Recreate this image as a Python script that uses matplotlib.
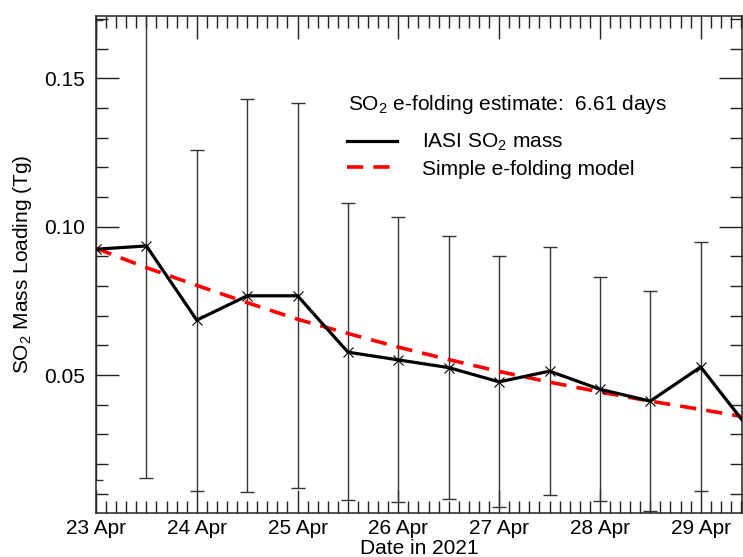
"""
SO2 mass loading from IASI with simple e-folding fit
"""
import numpy as np
import pandas as pd
import matplotlib
matplotlib.use("Agg")
import matplotlib.pyplot as plt
import matplotlib.dates as mdates
from matplotlib.ticker import MultipleLocator
from matplotlib.lines import Line2D

plt.rcParams['font.family'] = ['Liberation Sans', 'DejaVu Sans']
plt.rcParams['mathtext.fontset'] = 'custom'
plt.rcParams['mathtext.rm'] = 'Liberation Sans'
plt.rcParams['mathtext.it'] = 'Liberation Sans:italic'
plt.rcParams['mathtext.bf'] = 'Liberation Sans:bold'

# times of the IASI overpasses (every 12 h)
times = ["2021-04-23 00:00", "2021-04-23 12:00", "2021-04-24 00:00", "2021-04-24 12:00",
         "2021-04-25 00:00", "2021-04-25 12:00", "2021-04-26 00:00", "2021-04-26 12:00",
         "2021-04-27 00:00", "2021-04-27 12:00", "2021-04-28 00:00", "2021-04-28 12:00",
         "2021-04-29 00:00", "2021-04-29 12:00"]
# SO2 mass (Tg)
so2_mass = [0.0924, 0.0935, 0.0685, 0.0767, 0.0767, 0.0577, 0.0551,
            0.0525, 0.0477, 0.0513, 0.0452, 0.0412, 0.0527, 0.0310]
# error bar ends (Tg)
err_hi = [0.1697, 0.1850, 0.1259, 0.1431, 0.1417, 0.1079, 0.1031,
          0.0969, 0.0901, 0.0932, 0.0830, 0.0784, 0.0948, 0.1700]
err_lo = [0.0146, 0.0153, 0.0110, 0.0107, 0.0118, 0.0079, 0.0073,
          0.0082, 0.0055, 0.0094, 0.0075, 0.0043, 0.0110, 0.0060]
# e-folding model values at the same times
model = [0.0927, 0.0862, 0.0802, 0.0744, 0.0688, 0.0640, 0.0594,
         0.0552, 0.0512, 0.0476, 0.0443, 0.0412, 0.0384, 0.0355]
efold_days = 6.61

FS = 15

x = mdates.date2num(pd.to_datetime(times))
y = np.array(so2_mass)
yerr = [y - np.array(err_lo), np.array(err_hi) - y]

fig = plt.figure(figsize=(7.43, 5.57), dpi=100)
ax = fig.add_axes([96/743, 44/557, 646/743, 497/557])

ax.errorbar(x, y, yerr=yerr, fmt='none', ecolor='#333333', elinewidth=1.0,
            capsize=5, capthick=1.0, zorder=2)
ax.plot(x, model, color='red', lw=2.6, ls=(0, (4.5, 2.8)), zorder=3)
ax.plot(x, y, color='black', lw=2.3, marker='x', ms=7, mew=0.8, zorder=4)

x0 = mdates.date2num(pd.Timestamp("2021-04-23"))
ax.set_xlim(x0, x0 + 6.41)
ax.set_ylim(0.0035, 0.171)

ax.xaxis.set_major_locator(MultipleLocator(1))
ax.xaxis.set_minor_locator(MultipleLocator(0.1))
ax.xaxis.set_major_formatter(mdates.DateFormatter('%d %b'))
ax.yaxis.set_major_locator(MultipleLocator(0.05))
ax.yaxis.set_minor_locator(MultipleLocator(0.01))
ax.yaxis.set_major_formatter(plt.FuncFormatter(lambda v, p: "%.2f" % v))

ax.tick_params(which='both', direction='in', top=True, right=True, width=1.0,
               labelsize=FS, color='#222222')
ax.tick_params(which='major', length=16.5)
ax.tick_params(which='minor', length=8.5)
ax.tick_params(axis='x', pad=4)
ax.tick_params(axis='y', pad=8)
for s in ax.spines.values():
    s.set_linewidth(1.1)
    s.set_color('#222222')

ax.set_xlabel("Date in 2021", fontsize=FS, labelpad=1)
ax.set_ylabel("SO$_2$ Mass Loading (Tg)", fontsize=FS, labelpad=7)

ax.text(0.39, 0.821, "SO$_2$ e-folding estimate:  %.2f days" % efold_days,
        transform=ax.transAxes, fontsize=FS, va='center', ha='left')
handles = [Line2D([], [], color='black', lw=2.3),
           Line2D([], [], color='red', lw=2.6, ls=(0, (4.5, 2.8)))]
ax.legend(handles, ["IASI SO$_2$ mass", "Simple e-folding model"],
          loc='upper left', bbox_to_anchor=(0.375, 0.783), frameon=False,
          fontsize=FS, handlelength=2.4, handletextpad=1.2,
          labelspacing=0.3, borderaxespad=0)

fig.savefig("out.png", dpi=100)
